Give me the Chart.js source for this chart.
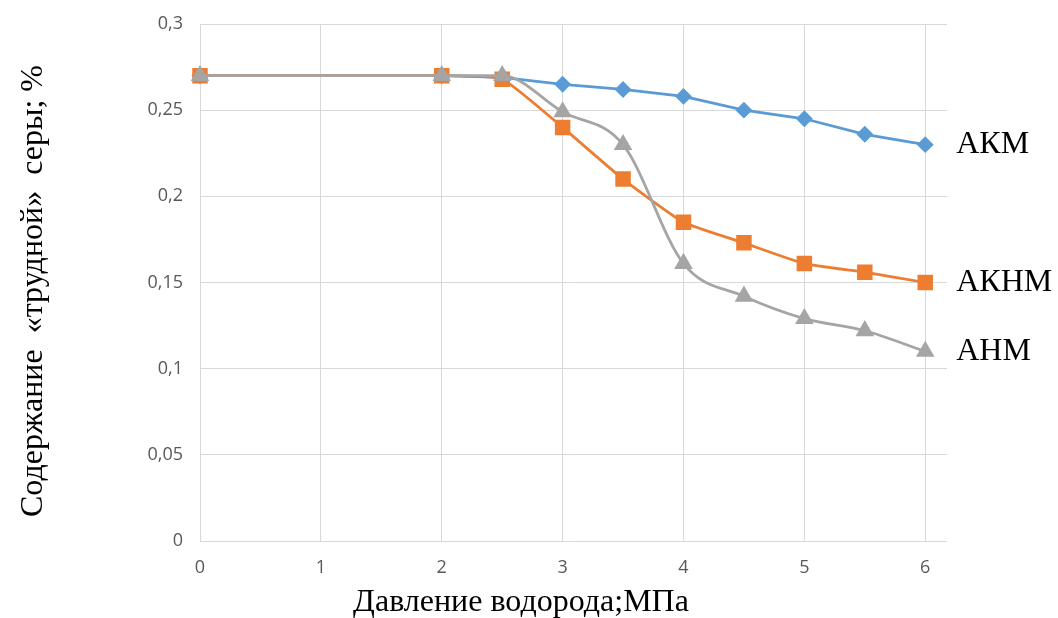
<!DOCTYPE html>
<html>
<head>
<meta charset="utf-8">
<script src="https://cdn.jsdelivr.net/npm/chart.js@4/dist/chart.umd.min.js"></script>
<style>
  html, body { margin: 0; padding: 0; background: #fff; }
  #wrap { width: 1058px; height: 618px; position: relative; }
</style>
</head>
<body>
<div id="wrap"><canvas id="c" width="1058" height="618"></canvas></div>
<script>
// Hydrogen pressure, MPa
const pressure = [0, 2, 2.5, 3, 3.5, 4, 4.5, 5, 5.5, 6];
// "Hard" sulfur content, %
const akm  = [0.270, 0.270, 0.269, 0.265, 0.262, 0.258, 0.250, 0.245, 0.236, 0.230];
const aknm = [0.270, 0.270, 0.268, 0.240, 0.210, 0.185, 0.173, 0.161, 0.156, 0.150];
const anm  = [0.270, 0.270, 0.270, 0.249, 0.230, 0.161, 0.142, 0.129, 0.122, 0.110];
const seriesNames = ['АКМ', 'АКНМ', 'АНМ'];
const xTitle = 'Давление водорода;МПа';
const yTitle = 'Содержание  «трудной»  серы; %';

const toPoints = ys => pressure.map((x, i) => ({ x, y: ys[i] }));
const serif = '"Liberation Serif", "Times New Roman", serif';
const tickFont = { family: '"Open Sans", sans-serif', size: 18 };

// Axis titles and series names next to the last point of each line
const textPlugin = {
  id: 'texts',
  afterDraw(chart) {
    const { ctx, scales } = chart;
    ctx.save();
    ctx.fillStyle = '#000';
    ctx.font = '32px ' + serif;
    ctx.textAlign = 'center';
    ctx.textBaseline = 'middle';
    ctx.fillText(xTitle, 521, 603);
    ctx.save();
    ctx.translate(34, 291);
    ctx.rotate(-Math.PI / 2);
    ctx.fillText(yTitle, 0, 0);
    ctx.restore();
    ctx.textAlign = 'left';
    chart.data.datasets.forEach(ds => {
      const last = ds.data[ds.data.length - 1];
      const px = scales.x.getPixelForValue(last.x) + 31;
      const py = scales.y.getPixelForValue(last.y);
      ctx.fillText(ds.label, px, py);
    });
    ctx.restore();
  }
};

new Chart(document.getElementById('c'), {
  type: 'line',
  data: {
    datasets: [
      {
        label: seriesNames[0], data: toPoints(akm), order: 3,
        borderColor: '#5B9BD5', backgroundColor: '#5B9BD5',
        borderWidth: 2.75, pointStyle: 'rectRot', pointRadius: 6.5,
        tension: 0, clip: false
      },
      {
        label: seriesNames[1], data: toPoints(aknm), order: 2,
        borderColor: '#ED7D31', backgroundColor: '#ED7D31',
        borderWidth: 2.75, pointStyle: 'rect', pointRadius: 9,
        tension: 0.15, clip: false
      },
      {
        label: seriesNames[2], data: toPoints(anm), order: 1,
        borderColor: '#A5A5A5', backgroundColor: '#A5A5A5',
        borderWidth: 2.75, pointStyle: 'triangle', pointRadius: 8,
        tension: 0.4, cubicInterpolationMode: 'monotone', clip: false
      }
    ]
  },
  options: {
    responsive: false,
    animation: false,
    layout: { padding: { top: 24, right: 111, left: 0, bottom: 0 } },
    plugins: { legend: { display: false }, tooltip: { enabled: false } },
    elements: { point: { borderWidth: 0 } },
    scales: {
      x: {
        type: 'linear', min: 0, max: 6.18,
        border: { display: false },
        grid: { color: '#D9D9D9', lineWidth: 1, drawTicks: false },
        ticks: {
          stepSize: 1, includeBounds: false, padding: 16,
          color: '#595959', font: tickFont
        },
        afterFit(scale) {
          scale.height = 77;
          scale.paddingLeft = 0;
          scale.paddingRight = 0;
        }
      },
      y: {
        min: 0, max: 0.3,
        border: { display: false },
        grid: { color: '#D9D9D9', lineWidth: 1, drawTicks: false },
        ticks: {
          stepSize: 0.05, padding: 17,
          color: '#595959', font: tickFont,
          callback: v => String(Number(v.toFixed(2))).replace('.', ',')
        },
        afterFit(scale) {
          scale.width = 200;
          scale.paddingTop = 0;
          scale.paddingBottom = 0;
        }
      }
    }
  },
  plugins: [textPlugin]
});
</script>
</body>
</html>
